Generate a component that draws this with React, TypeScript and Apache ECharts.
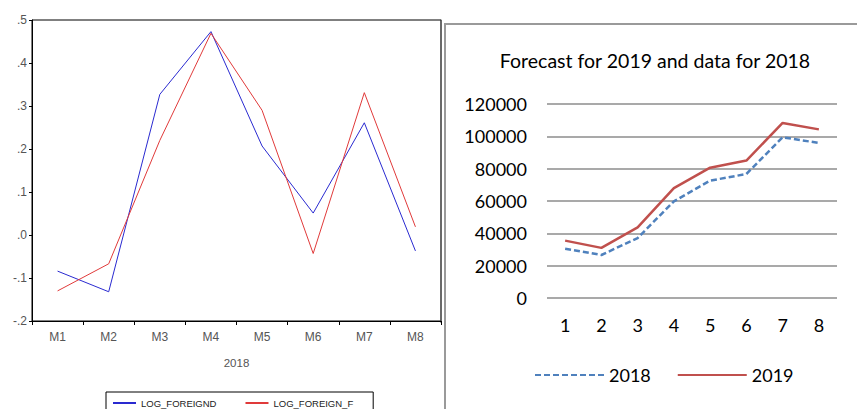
import React, { useEffect, useRef } from "react";
import * as echarts from "echarts";

const monthLabels = ["M1", "M2", "M3", "M4", "M5", "M6", "M7", "M8"];
const logForeignD = [-0.084, -0.132, 0.327, 0.473, 0.207, 0.051, 0.261, -0.037];
const logForeignF = [-0.13, -0.067, 0.22, 0.469, 0.29, -0.043, 0.331, 0.019];

const periodLabels = ["1", "2", "3", "4", "5", "6", "7", "8"];
const data2018 = [30500, 26600, 37100, 59800, 72600, 76700, 99400, 95900];
const data2019 = [35500, 31000, 43700, 68000, 80600, 85000, 108300, 104300];

const leftFont = "Liberation Sans";
const rightFont = "Lato";

export default function App() {
  const ref = useRef<HTMLDivElement>(null);
  useEffect(() => {
    if (!ref.current) return;
    const chart = echarts.init(ref.current, null, { renderer: "svg" });
    chart.setOption({
      animation: false,
      backgroundColor: "#ffffff",
      title: {
        text: "Forecast for 2019 and data for 2018",
        left: 650,
        textAlign: "center",
        top: 45,
        textStyle: { fontFamily: rightFont, fontSize: 19.5, fontWeight: "normal", color: "#000" },
      },
      legend: [
        {
          data: ["LOG_FOREIGND", "LOG_FOREIGN_F"],
          left: 106,
          top: 392,
          itemWidth: 23,
          itemHeight: 10,
          itemGap: 28,
          padding: [6, 20, 10, 6],
          borderColor: "#000",
          borderWidth: 1,
          itemStyle: { opacity: 0, borderWidth: 0 },
          textStyle: { fontFamily: leftFont, fontSize: 9.5, color: "#222" },
        },
        {
          data: ["2018", "2019"],
          left: 529,
          top: 361,
          itemWidth: 69,
          itemHeight: 12,
          itemGap: 26,
          itemStyle: { opacity: 0, borderWidth: 0 },
          textStyle: { fontFamily: rightFont, fontSize: 18, color: "#000" },
        },
      ],
      graphic: [
        {
          type: "rect",
          shape: { x: 445, y: 24, width: 430, height: 420 },
          style: { fill: "none", stroke: "#9a9a9a", lineWidth: 2 },
        },
        {
          type: "line",
          shape: { x1: 441, y1: 19.5, x2: 441, y2: 323 },
          style: { stroke: "#555", lineWidth: 1 },
        },
      ],
      grid: [
        { left: 32, top: 20, width: 409, height: 301, show: true, borderColor: "#000", borderWidth: 1 },
        { left: 547, top: 104, width: 290, height: 194 },
      ],
      xAxis: [
        {
          gridIndex: 0,
          type: "category",
          data: monthLabels,
          boundaryGap: true,
          name: "2018",
          nameLocation: "middle",
          nameGap: 36,
          nameTextStyle: { fontFamily: leftFont, fontSize: 11.5, color: "#555" },
          axisLine: { onZero: false, lineStyle: { color: "#000", width: 1 } },
          axisTick: { show: true, length: 4, lineStyle: { color: "#000" } },
          axisLabel: { fontFamily: leftFont, fontSize: 12, color: "#555", margin: 10 },
        },
        {
          gridIndex: 1,
          type: "category",
          data: periodLabels,
          boundaryGap: true,
          axisLine: { show: false },
          axisTick: { show: false },
          axisLabel: { fontFamily: rightFont, fontSize: 18, color: "#000", margin: 18 },
        },
      ],
      yAxis: [
        {
          gridIndex: 0,
          type: "value",
          min: -0.2,
          max: 0.5,
          interval: 0.1,
          axisLine: { show: true, lineStyle: { color: "#000", width: 1 } },
          axisTick: { show: true, length: 3, lineStyle: { color: "#000" } },
          splitLine: { show: false },
          axisLabel: {
            fontFamily: leftFont,
            fontSize: 12,
            color: "#555",
            margin: 5,
            formatter: (v: number) => v.toFixed(1).replace("0.", "."),
          },
        },
        {
          gridIndex: 1,
          type: "value",
          min: 0,
          max: 120000,
          interval: 20000,
          axisLine: { show: false },
          axisTick: { show: false },
          splitLine: { show: true, lineStyle: { color: "#8c8c8c", width: 1.5 } },
          axisLabel: {
            fontFamily: rightFont,
            fontSize: 18,
            color: "#000",
            margin: 20,
            formatter: (v: number) => String(v),
          },
        },
      ],
      series: [
        {
          name: "LOG_FOREIGND",
          type: "line",
          xAxisIndex: 0,
          yAxisIndex: 0,
          data: logForeignD,
          symbol: "none",
          lineStyle: { color: "#2a2ad0", width: 1 },
          itemStyle: { color: "#2a2ad0" },
        },
        {
          name: "LOG_FOREIGN_F",
          type: "line",
          xAxisIndex: 0,
          yAxisIndex: 0,
          data: logForeignF,
          symbol: "none",
          lineStyle: { color: "#e03a3a", width: 1 },
          itemStyle: { color: "#e03a3a" },
        },
        {
          name: "2018",
          type: "line",
          xAxisIndex: 1,
          yAxisIndex: 1,
          data: data2018,
          symbol: "none",
          lineStyle: { color: "#4f81bd", width: 2.5, type: [6, 3] },
          itemStyle: { color: "#4f81bd" },
        },
        {
          name: "2019",
          type: "line",
          xAxisIndex: 1,
          yAxisIndex: 1,
          data: data2019,
          symbol: "none",
          lineStyle: { color: "#c0504d", width: 2.5 },
          itemStyle: { color: "#c0504d" },
        },
      ],
    });
    return () => chart.dispose();
  }, []);
  return (
    <div
      ref={ref}
      style={{ position: "absolute", left: 0, top: 0, width: 857, height: 409 }}
    />
  );
}
